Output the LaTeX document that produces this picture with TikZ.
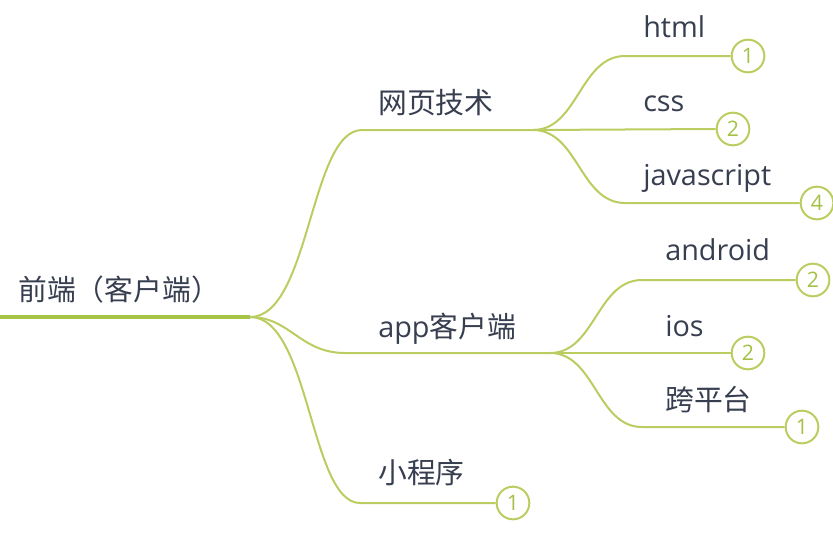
\documentclass[tikz,border=0pt]{standalone}
\usepackage{fontspec}
\setmainfont{Open Sans}
\newfontfamily\cjk{Noto Sans CJK SC}
\definecolor{txt}{RGB}{55,62,80}
\definecolor{rootg}{RGB}{166,196,70}
\definecolor{brg}{RGB}{186,205,96}
\definecolor{numg}{RGB}{165,192,70}
\begin{document}
\begin{tikzpicture}[x=0.75pt,y=-0.75pt,
  lbl/.style={anchor=base west, inner sep=0pt, text=txt, font=\fontsize{21.6}{24}\selectfont},
  num/.style={circle, draw=brg, line width=1.5pt, fill=white, minimum size=24.5pt, inner sep=0pt, text=numg, font=\fontsize{16}{18}\selectfont},
  br/.style={draw=brg, line width=1.5pt},
  rootline/.style={draw=rootg, line width=3pt}]
\useasboundingbox (0,0) rectangle (833,540);
% coordinates
\coordinate (r0) at (0,317);
\coordinate (r1) at (250,317);
\coordinate (w0) at (362,130);
\coordinate (w1) at (533,130);
\coordinate (a0) at (345,353);
\coordinate (a1) at (550,353);
\coordinate (m0) at (360,503);
\coordinate (h0) at (625,56);
\coordinate (j0) at (625,203);
\coordinate (d0) at (642,280);
\coordinate (k0) at (642,427);
% number circles
\node[num] (nh) at (748,56) {1};
\node[num] (nc) at (733,129) {2};
\node[num] (nj) at (817,203) {4};
\node[num] (nd) at (813,280) {2};
\node[num] (ni) at (748,353) {2};
\node[num] (nk) at (802,427) {1};
\node[num] (nm) at (513,503) {1};
% connectors
\draw[br] (r1) .. controls (310,317) and (310,130) .. (w0) -- (w1);
\draw[br] (r1) .. controls (290,317) and (300,353) .. (a0) -- (a1);
\draw[br] (r1) .. controls (310,317) and (310,503) .. (m0) -- (nm.west);
\draw[br] (w1) .. controls (578,130) and (580,56) .. (h0) -- (nh.west);
\draw[br] (w1) -- (nc.west);
\draw[br] (w1) .. controls (578,130) and (580,203) .. (j0) -- (nj.west);
\draw[br] (a1) .. controls (595,353) and (597,280) .. (d0) -- (nd.west);
\draw[br] (a1) -- (ni.west);
\draw[br] (a1) .. controls (595,353) and (597,427) .. (k0) -- (nk.west);
\draw[rootline] (r0) -- (r1);
% labels
\node[lbl] (root) at (18,300) {\cjk 前端（客户端）};
\node[lbl] (web) at (378,113) {\cjk 网页技术};
\node[lbl] (app) at (378,337) {app{\cjk 客户端}};
\node[lbl] (mini) at (378,483) {\cjk 小程序};
\node[lbl] (html) at (643,37) {html};
\node[lbl] (css) at (643,111) {css};
\node[lbl] (js) at (643,185) {javascript};
\node[lbl] (android) at (665,260) {android};
\node[lbl] (ios) at (665,336) {ios};
\node[lbl] (kpt) at (665,410) {\cjk 跨平台};
\end{tikzpicture}
\end{document}
